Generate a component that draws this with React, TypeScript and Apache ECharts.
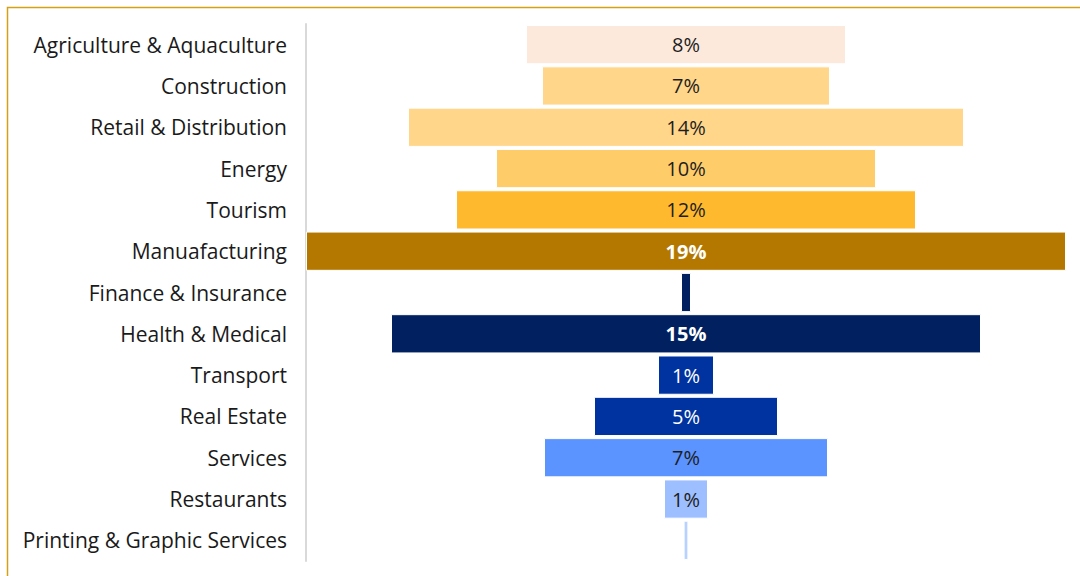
import React, { useEffect, useRef } from "react";
import * as echarts from "echarts";

const categories = [
  "Agriculture & Aquaculture",
  "Construction",
  "Retail & Distribution",
  "Energy",
  "Tourism",
  "Manuafacturing",
  "Finance & Insurance",
  "Health & Medical",
  "Transport",
  "Real Estate",
  "Services",
  "Restaurants",
  "Printing & Graphic Services",
];
const values = [8.0, 7.2, 13.9, 9.5, 11.5, 19.0, 0.25, 14.75, 1.4, 4.6, 7.1, 1.1, 0.12];
const valueLabels = ["8%", "7%", "14%", "10%", "12%", "19%", "", "15%", "1%", "5%", "7%", "1%", ""];
const barColors = [
  "#FCE9DC", "#FFD68A", "#FFD68A", "#FFCC6A", "#FFB92E", "#B47800", "#002060",
  "#002060", "#0033A0", "#0033A0", "#5B93FF", "#9DBFFF", "#B8D2FF",
];
const labelColors = [
  "#1E1E1E", "#1E1E1E", "#1E1E1E", "#1E1E1E", "#1E1E1E", "#FFFFFF", "#FFFFFF",
  "#FFFFFF", "#FFFFFF", "#FFFFFF", "#1E1E1E", "#1E1E1E", "#1E1E1E",
];
const labelBold = [false, false, false, false, false, true, false, true, false, false, false, false, false];
const MAXV = 19;

export default function App() {
  const ref = useRef<HTMLDivElement>(null);
  useEffect(() => {
    if (!ref.current) return;
    const chart = echarts.init(ref.current, undefined, { renderer: "svg" });
    const offsets = values.map((v) => (MAXV - v) / 2);
    chart.setOption({
      animation: false,
      graphic: [
        {
          type: "rect",
          shape: { x: 7.5, y: 7.5, width: 1200, height: 1000 },
          style: { fill: "none", stroke: "#D4A017", lineWidth: 1.5 },
          silent: true,
          z: 0,
        },
      ],
      grid: { left: 306, right: 14, top: 24, bottom: 15, containLabel: false },
      xAxis: {
        type: "value",
        min: 0,
        max: MAXV,
        show: false,
      },
      yAxis: {
        type: "category",
        data: categories,
        inverse: true,
        axisLine: { show: true, lineStyle: { color: "#D9D9D9", width: 2 } },
        axisTick: { show: false },
        axisLabel: {
          margin: 19,
          fontFamily: "Open Sans",
          fontSize: 21,
          color: "#1A1A1A",
        },
      },
      series: [
        {
          type: "bar",
          stack: "s",
          data: offsets,
          itemStyle: { color: "transparent" },
          silent: true,
          barCategoryGap: "5%",
        },
        {
          type: "bar",
          stack: "s",
          barCategoryGap: "5%",
          data: values.map((v, i) => ({
            value: v,
            itemStyle: { color: barColors[i], borderColor: "#FFFFFF", borderWidth: 1 },
            label: {
              show: valueLabels[i] !== "",
              position: "inside",
              formatter: valueLabels[i],
              color: labelColors[i],
              fontWeight: labelBold[i] ? "bold" : "normal",
              fontFamily: "Open Sans",
              fontSize: 20,
            },
          })),
        },
      ],
    });
    return () => chart.dispose();
  }, []);
  return (
    <div
      ref={ref}
      style={{ position: "absolute", left: 0, top: 0, width: 1080, height: 576, background: "#FFFFFF" }}
    />
  );
}
